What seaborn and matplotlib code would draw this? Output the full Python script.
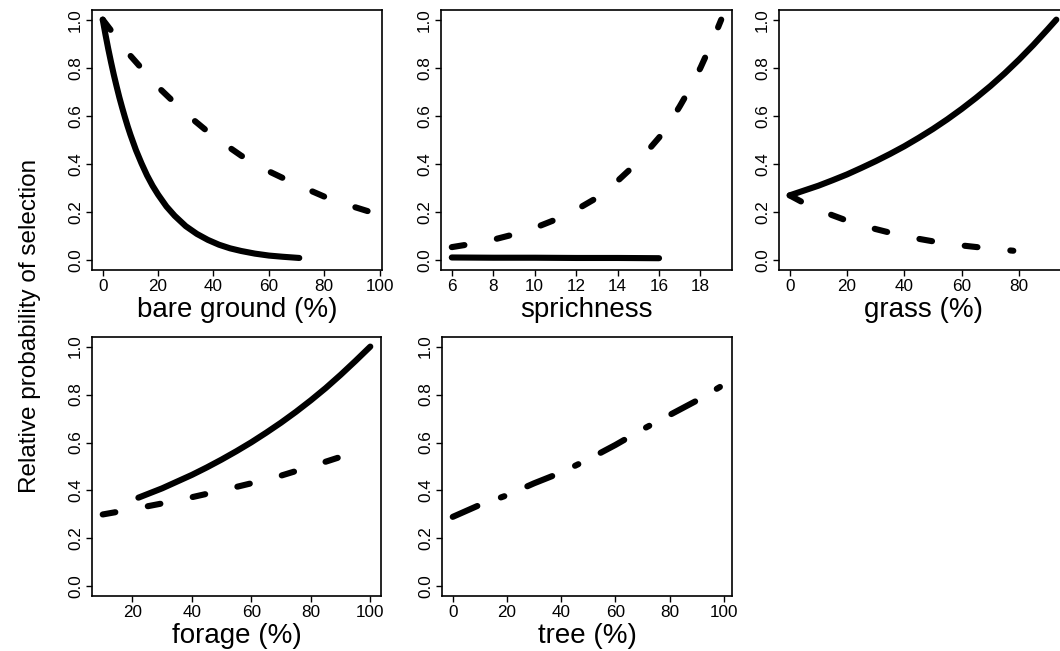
import numpy as np
import pandas as pd
import seaborn as sns
import matplotlib.pyplot as plt

# values
bare_x_solid = [0, 1, 2, 3, 4, 5, 6, 7, 8, 9, 10, 12, 14, 16, 18, 20, 23, 26, 30,
                34, 38, 42, 46, 50, 55, 60, 65, 71]
bare_y_solid = [1.0, 0.937, 0.878, 0.823, 0.771, 0.723, 0.677, 0.635, 0.595, 0.557,
                0.522, 0.458, 0.403, 0.353, 0.310, 0.273, 0.224, 0.185, 0.142,
                0.110, 0.085, 0.065, 0.050, 0.039, 0.028, 0.020, 0.015, 0.010]
bare_x_dash = [0, 10, 20, 30, 40, 50, 60, 70, 80, 90, 97]
bare_y_dash = [1.0, 0.85, 0.72, 0.61, 0.515, 0.435, 0.37, 0.315, 0.265, 0.225, 0.20]

spr_x_solid = [6, 8, 10, 12, 14, 16]
spr_y_solid = [0.012, 0.011, 0.011, 0.010, 0.010, 0.009]
spr_x_dash = [6, 7, 8, 9, 10, 11, 12, 13, 14, 15, 16, 16.5, 17, 17.5, 18, 18.5, 19]
spr_y_dash = [0.055, 0.069, 0.086, 0.108, 0.135, 0.169, 0.21, 0.26, 0.33, 0.41, 0.51,
              0.57, 0.64, 0.715, 0.80, 0.895, 1.0]

grass_x_solid = [0, 5, 10, 15, 20, 25, 30, 35, 40, 45, 50, 55, 60, 65, 70, 75, 80, 85, 90, 93]
grass_y_solid = [0.27, 0.29, 0.31, 0.333, 0.357, 0.384, 0.412, 0.442, 0.474, 0.509, 0.546,
                 0.586, 0.629, 0.675, 0.724, 0.777, 0.834, 0.895, 0.96, 1.0]
grass_x_dash = [0, 5, 10, 15, 20, 30, 40, 50, 60, 70, 78]
grass_y_dash = [0.27, 0.238, 0.21, 0.187, 0.165, 0.13, 0.10, 0.079, 0.062, 0.049, 0.04]

forage_x_solid = [22, 30, 35, 40, 45, 50, 55, 60, 65, 70, 75, 80, 85, 90, 95, 100]
forage_y_solid = [0.37, 0.409, 0.437, 0.465, 0.496, 0.529, 0.564, 0.601, 0.641, 0.683,
                  0.728, 0.776, 0.827, 0.882, 0.940, 1.0]
forage_x_dash = [10, 20, 30, 40, 50, 60, 70, 80, 90]
forage_y_dash = [0.30, 0.322, 0.346, 0.372, 0.40, 0.43, 0.462, 0.50, 0.54]

tree_x = [0, 10, 20, 30, 40, 50, 60, 70, 80, 90, 99]
tree_y = [0.29, 0.34, 0.38, 0.43, 0.475, 0.53, 0.59, 0.655, 0.715, 0.775, 0.835]

xlabels = ['bare ground (%)', 'sprichness', 'grass (%)', 'forage (%)', 'tree (%)']
xticks = [[0, 20, 40, 60, 80, 100], [6, 8, 10, 12, 14, 16, 18], [0, 20, 40, 60, 80],
          [20, 40, 60, 80, 100], [0, 20, 40, 60, 80, 100]]
yticks = [0.0, 0.2, 0.4, 0.6, 0.8, 1.0]

sns.set_style('ticks')
plt.rcParams['font.family'] = ['Liberation Sans', 'DejaVu Sans']
plt.rcParams['text.color'] = 'black'
plt.rcParams['axes.labelcolor'] = 'black'
plt.rcParams['xtick.color'] = 'black'
plt.rcParams['ytick.color'] = 'black'

W, H = 1060, 651
fig = plt.figure(figsize=(10.6, 6.51), dpi=100)

# panel boxes in pixels: left, right, top, bottom
boxes = [(92, 382, 10, 270), (441, 732, 10, 270), (779, 1067, 10, 270),
         (92, 381, 337, 596), (442, 732, 337, 596)]

LW = 4.4
solid = dict(color='black', lw=LW, solid_capstyle='round', solid_joinstyle='round')
dashed = dict(color='black', lw=LW, linestyle=(0, (2.1, 5.4)), dash_capstyle='round')
dashdot = dict(color='black', lw=LW, linestyle=(0, (4.4, 4.1, 0.6, 4.1)), dash_capstyle='round')

series = [
    [(bare_x_solid, bare_y_solid, solid), (bare_x_dash, bare_y_dash, dashed)],
    [(spr_x_solid, spr_y_solid, solid), (spr_x_dash, spr_y_dash, dashed)],
    [(grass_x_solid, grass_y_solid, solid), (grass_x_dash, grass_y_dash, dashed)],
    [(forage_x_solid, forage_y_solid, solid), (forage_x_dash, forage_y_dash, dashed)],
    [(tree_x, tree_y, dashdot)],
]

for i, (l, r, t, b) in enumerate(boxes):
    ax = fig.add_axes([l / W, 1 - b / H, (r - l) / W, (b - t) / H])
    for xs, ys, kw in series[i]:
        sns.lineplot(x=xs, y=ys, ax=ax, estimator=None, sort=False, **kw)
    allx = [v for xs, _, _ in series[i] for v in xs]
    lo, hi = min(allx), max(allx)
    pad = 0.04 * (hi - lo)
    ax.set_xlim(lo - pad, hi + pad)
    ax.set_ylim(-0.04, 1.04)
    ax.set_xticks(xticks[i])
    ax.set_yticks(yticks)
    ax.set_yticklabels([f'{v:.1f}' for v in yticks], rotation=90, va='center')
    ax.tick_params(axis='both', labelsize=12.3, length=4.5, width=1, pad=2, color='black')
    ax.set_xlabel(xlabels[i], fontsize=20, labelpad=2)
    for s in ax.spines.values():
        s.set_linewidth(1.2)
        s.set_color('black')

fig.text(30 / W, 0.5, 'Relative probability of selection', rotation=90,
         ha='center', va='center', fontsize=17.5)

fig.savefig('out.png', dpi=100)
